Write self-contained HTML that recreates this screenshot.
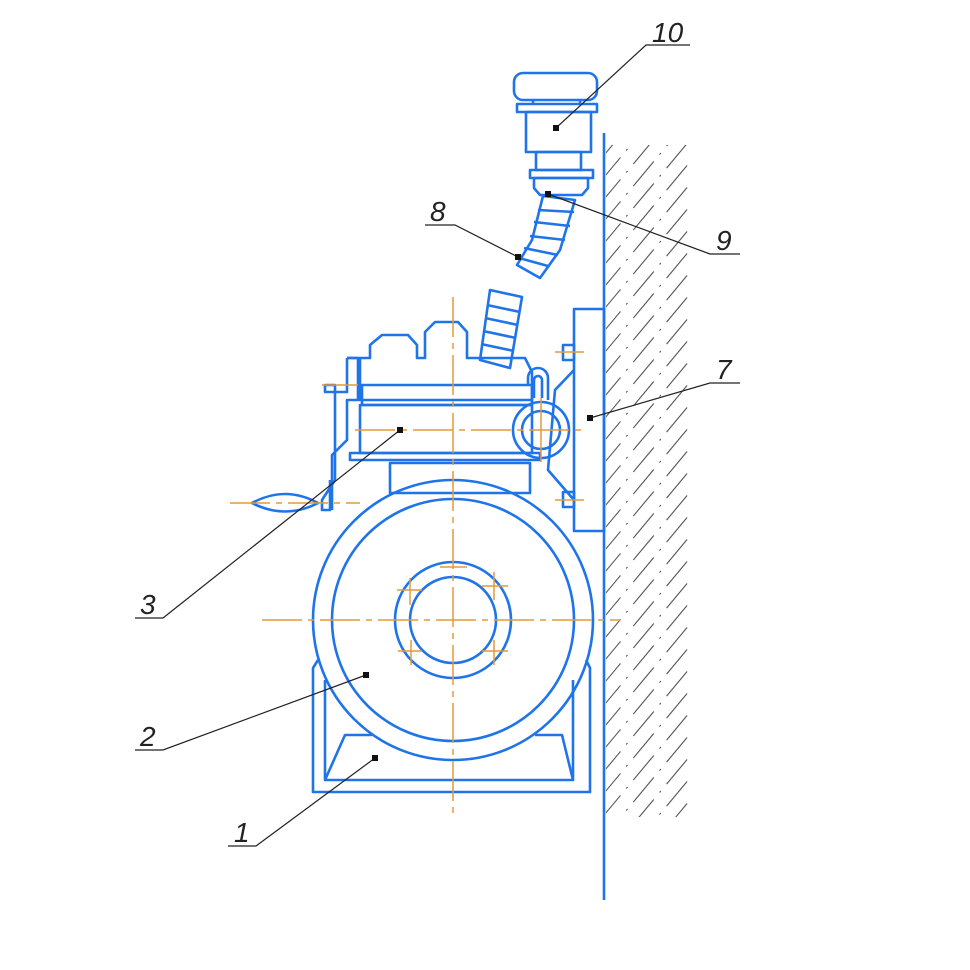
<!DOCTYPE html>
<html><head><meta charset="utf-8"><style>
html,body{margin:0;padding:0;background:#fff}
svg{display:block}
.b{fill:none;stroke:#1f74ea;stroke-width:2.6;stroke-linejoin:round}
.o{fill:none;stroke:#e39a3a;stroke-width:1.5}
.oc{fill:none;stroke:#e39a3a;stroke-width:1.5;stroke-dasharray:40 6 6 6}
.k{fill:none;stroke:#222;stroke-width:1.2}
.h{stroke:#555;stroke-width:1.1;stroke-dasharray:32 9 2 9}
.t{font-family:"Liberation Sans",sans-serif;font-style:italic;font-size:28px;fill:#222}
</style></head><body>
<svg width="970" height="970" viewBox="0 0 970 970" xmlns="http://www.w3.org/2000/svg">
<defs><clipPath id="c"><rect x="606" y="145" width="84" height="672"/></clipPath></defs>
<g class="h" clip-path="url(#c)">
<line x1="600" y1="160" x2="700" y2="40"/><line x1="600" y1="182" x2="700" y2="62"/>
<line x1="600" y1="204" x2="700" y2="84"/><line x1="600" y1="226" x2="700" y2="106"/>
<line x1="600" y1="248" x2="700" y2="128"/><line x1="600" y1="270" x2="700" y2="150"/>
<line x1="600" y1="292" x2="700" y2="172"/><line x1="600" y1="314" x2="700" y2="194"/>
<line x1="600" y1="336" x2="700" y2="216"/><line x1="600" y1="358" x2="700" y2="238"/>
<line x1="600" y1="380" x2="700" y2="260"/><line x1="600" y1="402" x2="700" y2="282"/>
<line x1="600" y1="424" x2="700" y2="304"/><line x1="600" y1="446" x2="700" y2="326"/>
<line x1="600" y1="468" x2="700" y2="348"/><line x1="600" y1="490" x2="700" y2="370"/>
<line x1="600" y1="512" x2="700" y2="392"/><line x1="600" y1="534" x2="700" y2="414"/>
<line x1="600" y1="556" x2="700" y2="436"/><line x1="600" y1="578" x2="700" y2="458"/>
<line x1="600" y1="600" x2="700" y2="480"/><line x1="600" y1="622" x2="700" y2="502"/>
<line x1="600" y1="644" x2="700" y2="524"/><line x1="600" y1="666" x2="700" y2="546"/>
<line x1="600" y1="688" x2="700" y2="568"/><line x1="600" y1="710" x2="700" y2="590"/>
<line x1="600" y1="732" x2="700" y2="612"/><line x1="600" y1="754" x2="700" y2="634"/>
<line x1="600" y1="776" x2="700" y2="656"/><line x1="600" y1="798" x2="700" y2="678"/>
<line x1="600" y1="820" x2="700" y2="700"/><line x1="600" y1="842" x2="700" y2="722"/>
<line x1="600" y1="864" x2="700" y2="744"/><line x1="600" y1="886" x2="700" y2="766"/>
<line x1="600" y1="908" x2="700" y2="788"/><line x1="600" y1="930" x2="700" y2="810"/>
</g>
<line x1="604" y1="133" x2="604" y2="900" stroke="#1f74ea" stroke-width="2.6"/>
<g class="b">
<rect x="514" y="73" width="83" height="27" rx="9"/>
<line x1="533" y1="100" x2="533" y2="104"/><line x1="580" y1="100" x2="580" y2="104"/>
<rect x="517" y="104" width="80" height="8"/>
<rect x="526" y="112" width="65" height="40"/>
<rect x="536" y="152" width="45" height="18"/>
<rect x="530" y="170" width="63" height="8"/>
<path d="M534 178 H588 V188 L582 195 H540 L534 188 Z"/>
<path d="M543 196 L575 200 L560 250 L540 278 L517 265 L532 240 Z"/>
<path d="M538 210 L574 212 M534 222 L570 226 M530 236 L565 240 M524 248 L558 255 M519 258 L548 266"/>
</g>
<g class="b">
<path d="M347 358 H370 V345 L382 335 H408 L417 345 V358 H425 V332 L435 322 H458 L467 332 V358 H525 L532 372 L532 400 H360 V358"/>
<rect x="362" y="385" width="170" height="20"/>
<rect x="360" y="405" width="172" height="48"/>
<rect x="350" y="453" width="190" height="7"/>
<path d="M347 358 V392 L335 392 V385 L325 385 V392 L335 392 V480 L322 500 V510 L330 510 V480"/>
<path d="M347 358 H358 V400 H347 V440 L332 455 V510"/>
<path d="M480 360 L490 290 L522 297 L510 368 Z"/>
<path d="M487 305 L520 312 M485 318 L518 325 M483 331 L516 338 M481 344 L514 351"/>
<rect x="390" y="463" width="140" height="30"/>
<rect x="574" y="309" width="30" height="222"/>
<path d="M574 370 L555 390 L548 470 L574 500"/>
<path d="M528 385 V378 a10 10 0 0 1 20 0 V400 M534 398 V380 a4 4 0 0 1 8 0 V398"/>
<circle cx="541" cy="430" r="28"/><circle cx="541" cy="430" r="19"/>
<rect x="563" y="345" width="11" height="15"/><rect x="563" y="492" width="11" height="15"/>
<path d="M252 503 Q285 485 318 503 Q285 520 252 503 Z"/>
<circle cx="453" cy="620" r="140"/>
<circle cx="453" cy="620" r="121"/>
<circle cx="453" cy="620" r="58"/>
<circle cx="453" cy="620" r="43"/>
<path d="M318 660 L313 668 V792 H590 V668 L586 660"/>
<path d="M325 680 V780 H573 V680"/>
<path d="M325 780 L345 735 H372"/><path d="M573 780 L562 735 H535"/>
</g>
<g class="oc">
<line x1="453" y1="297" x2="453" y2="815"/>
<line x1="355" y1="430" x2="585" y2="430"/>
<line x1="262" y1="620" x2="620" y2="620"/>
<line x1="230" y1="503" x2="360" y2="503"/>
</g>
<g class="o">
<line x1="541" y1="398" x2="541" y2="462"/>
<line x1="322" y1="385" x2="358" y2="385"/>
<line x1="555" y1="352" x2="584" y2="352"/><line x1="555" y1="500" x2="584" y2="500"/>
<line x1="440" y1="567" x2="467" y2="567"/>
<line x1="397" y1="590" x2="422" y2="590"/><line x1="410" y1="578" x2="410" y2="605"/>
<line x1="482" y1="586" x2="508" y2="586"/><line x1="494" y1="572" x2="494" y2="600"/>
<line x1="398" y1="651" x2="422" y2="651"/><line x1="411" y1="640" x2="411" y2="665"/>
<line x1="482" y1="651" x2="508" y2="651"/><line x1="494" y1="640" x2="494" y2="665"/>
</g>
<g class="k">
<polyline points="690,45 646,45 556,128"/>
<polyline points="740,254 710,254 548,194"/>
<polyline points="425,225 455,225 518,257"/>
<polyline points="740,383 710,383 590,418"/>
<polyline points="135,618 163,618 400,430"/>
<polyline points="135,750 163,750 366,675"/>
<polyline points="228,846 256,846 375,758"/>
</g>
<g fill="#111">
<rect x="553" y="125" width="6" height="6"/><rect x="545" y="191" width="6" height="6"/>
<rect x="515" y="254" width="6" height="6"/><rect x="587" y="415" width="6" height="6"/>
<rect x="397" y="427" width="6" height="6"/><rect x="363" y="672" width="6" height="6"/>
<rect x="372" y="755" width="6" height="6"/>
</g>
<g class="t">
<text x="652" y="42">10</text>
<text x="716" y="250">9</text>
<text x="430" y="221">8</text>
<text x="716" y="379">7</text>
<text x="140" y="614">3</text>
<text x="140" y="746">2</text>
<text x="234" y="842">1</text>
</g>
</svg>
</body></html>
